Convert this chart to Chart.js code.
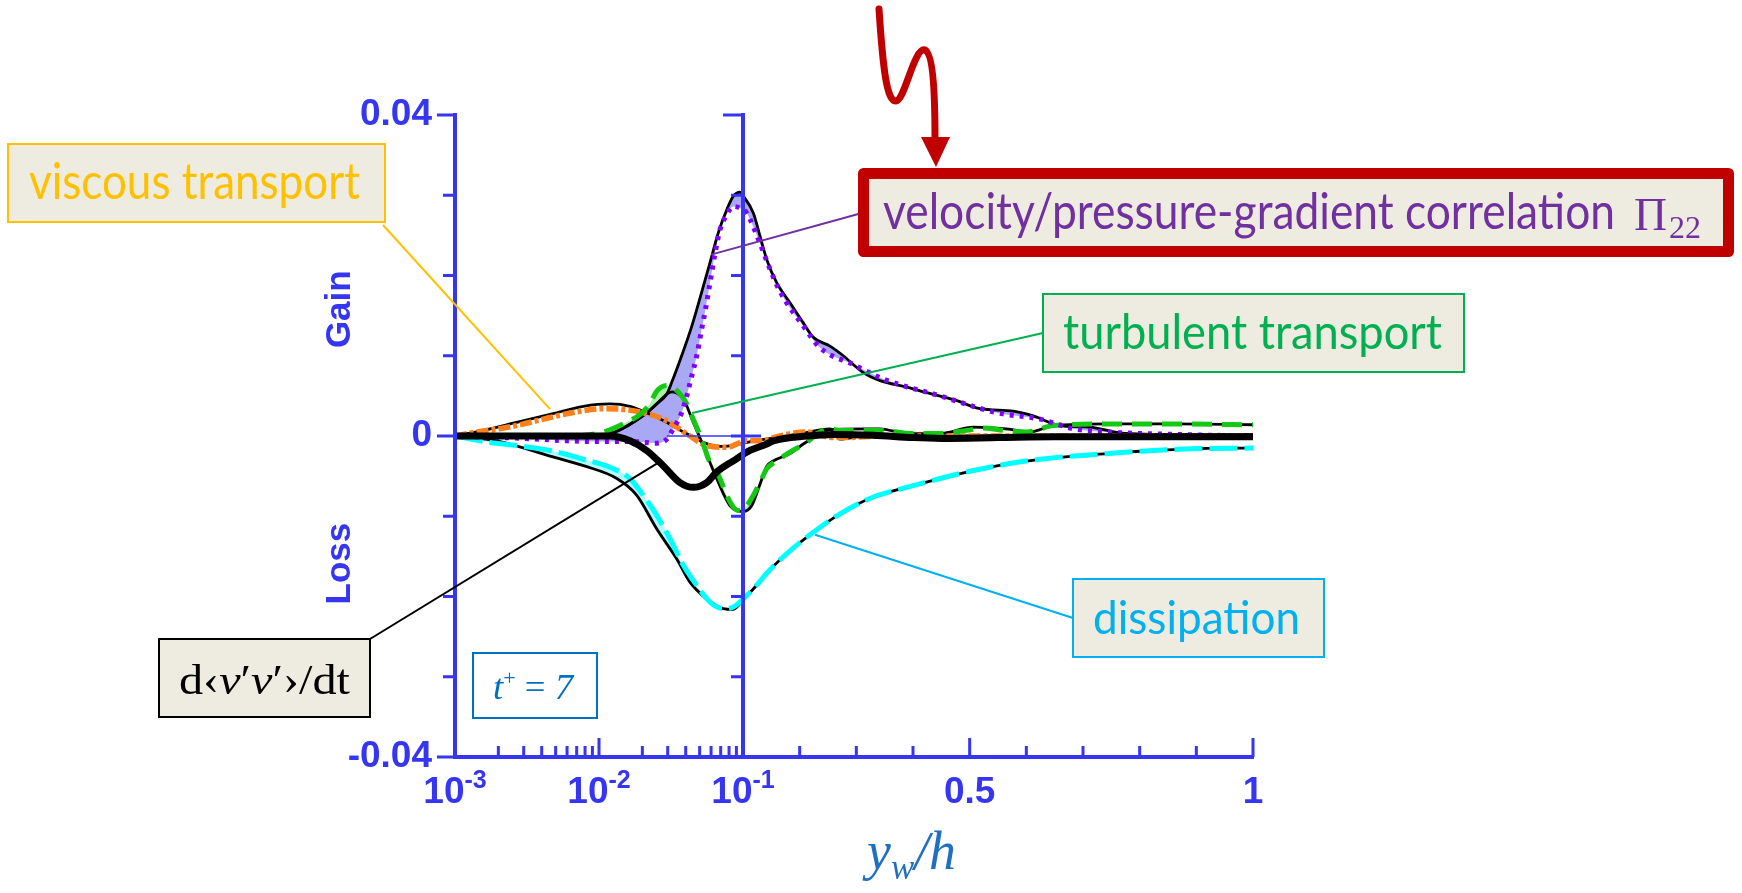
<!DOCTYPE html>
<html><head><meta charset="utf-8">
<script src="https://cdn.jsdelivr.net/npm/chart.js@4.4.1/dist/chart.umd.min.js"></script>
<style>html,body{margin:0;padding:0;background:#fff;overflow:hidden}canvas{display:block}</style>
</head><body>
<canvas id="c" width="1742" height="893"></canvas>
<script>
// ---------- tick data ----------
const xMinorTicks = [0.002,0.003,0.004,0.005,0.006,0.007,0.008,0.009,0.02,0.03,0.04,0.05,0.06,0.07,0.08,0.09,0.2,0.3,0.4,0.6,0.7,0.8,0.9];
const xMajorTicks = [0.01, 0.5, 1];
const xLabelValues = [0.001, 0.01, 0.1, 0.5, 1];
const xTickBases = ['10', '10', '10', '0.5', '1'];
const xTickExponents = ['-3', '-2', '-1', '', ''];
const yTickValues = [-0.04, -0.03, -0.02, -0.01, 0, 0.01, 0.02, 0.03, 0.04];
const yLabelValues = [-0.04, 0, 0.04];
const yTickLabels = ['-0.04', '0', '0.04'];

// ---------- series (x = y_w/h, y = budget term) ----------
const dudtX = [0.001,0.005,0.0119,0.0164,0.0214,0.0279,0.0365,0.0452,0.056,0.0656,0.0857,0.1124,0.1418,0.1535,0.2124,0.26,0.33,0.4,0.45,0.55,0.65,0.8,1.0];
const dudtY = [0,0,0,-0.0006,-0.0018,-0.0037,-0.0058,-0.0064,-0.0058,-0.0045,-0.0031,-0.0018,-0.0010,-0.0006,0.0000,0.0002,0.0001,-0.0002,-0.0003,-0.0002,-0.0001,-0.0001,-0.0001];

const pi22RefX = [0.001,0.005,0.01,0.0129,0.0165,0.0208,0.0255,0.0295,0.032,0.0375,0.0441,0.0516,0.059,0.0673,0.0771,0.0857,0.0953,0.1005,0.1182,0.13,0.1418,0.1594,0.1829,0.2064,0.2241,0.2535,0.277,0.3123,0.3418,0.3889,0.4242,0.4771,0.5182,0.5771,0.6124,0.6594,0.7124,0.7653,0.8712,1.0];
const pi22RefY = [0,0,0.0001,0.0005,0.0015,0.0027,0.0041,0.0052,0.0067,0.0100,0.0137,0.0179,0.0216,0.0253,0.0282,0.0299,0.0304,0.0299,0.0278,0.0249,0.0220,0.0191,0.0166,0.0141,0.0123,0.0112,0.0100,0.0079,0.0069,0.0061,0.0054,0.0044,0.0034,0.0031,0.0025,0.0013,0.0011,0.0004,0.0002,0.0002];
const pi22X = [0.001,0.003,0.006,0.0102,0.0173,0.0251,0.0295,0.0328,0.0375,0.0407,0.0441,0.0477,0.0516,0.0544,0.059,0.064,0.0692,0.0771,0.0857,0.0953,0.1065,0.1124,0.13,0.1476,0.1653,0.2064,0.2359,0.2947,0.3476,0.4476,0.5477,0.6241,0.6829,0.7418,0.8594,1.0];
const pi22Y = [0,-0.0003,-0.0006,-0.0007,-0.0007,-0.0009,-0.0004,0.0009,0.0029,0.0050,0.0075,0.0100,0.0133,0.0154,0.0191,0.0228,0.0257,0.0276,0.0286,0.0284,0.0278,0.0270,0.0240,0.0208,0.0180,0.0137,0.0110,0.0089,0.0071,0.0050,0.0029,0.0021,0.0009,0.0005,0.0002,0.0000];

const turbRefX = [0.001,0.008,0.0129,0.0208,0.0255,0.0295,0.0321,0.0385,0.0452,0.0529,0.0656,0.0813,0.1005,0.1153,0.13,0.1418,0.1535,0.1829,0.2064,0.23,0.2535,0.3123,0.3418,0.3889,0.4476,0.5065,0.5653,0.6065,0.6476,0.75,0.86,1.0];
const turbRefY = [0,0,0.0005,0.0027,0.0041,0.0052,0.0055,0.0046,0.0017,-0.0012,-0.0053,-0.0087,-0.0094,-0.0087,-0.0060,-0.0038,-0.0031,-0.0022,-0.0010,0.0000,0.0008,0.0009,0.0009,0.0003,0.0003,0.0011,0.0009,0.0005,0.0013,0.0015,0.0015,0.0014];
const turbX = [0.001,0.006,0.0102,0.0155,0.0193,0.0225,0.0252,0.0295,0.034,0.0407,0.0441,0.0516,0.059,0.0622,0.0692,0.0771,0.088,0.0953,0.1065,0.1182,0.13,0.1418,0.1594,0.1829,0.2124,0.2359,0.2535,0.2712,0.3418,0.4006,0.4476,0.4947,0.5241,0.5594,0.6006,0.6476,0.7418,0.8594,1.0];
const turbY = [0,0,0.0004,0.0017,0.0027,0.0040,0.0056,0.0063,0.0058,0.0040,0.0025,-0.0004,-0.0033,-0.0037,-0.0053,-0.0074,-0.0091,-0.0093,-0.0087,-0.0074,-0.0058,-0.0041,-0.0031,-0.0020,-0.0008,0.0005,0.0009,0.0007,0.0007,0.0003,0.0003,0.0007,0.0010,0.0007,0.0005,0.0013,0.0015,0.0015,0.0014];

const viscRefX = [0.001,0.00157,0.00268,0.00457,0.0078,0.0119,0.0164,0.0214,0.0295,0.0385,0.0452,0.0529,0.07,0.09,0.12,0.16,0.21,0.2535,0.2712,0.32,0.45,0.7,1.0];
const viscRefY = [0,0.0007,0.0017,0.0027,0.0037,0.0040,0.0037,0.0029,0.0017,0.0005,-0.0001,-0.0008,-0.0013,-0.0011,-0.0006,-0.0002,0.0004,0.0009,-0.0004,0.0001,0,0,0];
const viscX = [0.001,0.0014,0.00205,0.00298,0.00457,0.007,0.0107,0.0148,0.0203,0.0295,0.0428,0.056,0.0771,0.1065,0.1359,0.1535,0.2124,0.2594,0.277,0.35,0.5,0.7,1.0];
const viscY = [0,0.0005,0.0009,0.0015,0.0023,0.0030,0.0034,0.0033,0.0029,0.0019,0.0000,-0.0012,-0.0014,-0.0006,-0.0006,-0.0002,0.0005,-0.0002,-0.0002,0,0,0,0];

const dissRefX = [0.001,0.00195,0.00457,0.0078,0.0133,0.0183,0.0252,0.0346,0.0428,0.056,0.0728,0.0857,0.1005,0.1241,0.1418,0.1829,0.2241,0.2712,0.33,0.3889,0.4476,0.5065,0.5653,0.6241,0.6829,0.7418,0.8006,0.8888,1.0];
const dissRefY = [0,-0.0006,-0.0025,-0.0037,-0.0053,-0.0074,-0.0116,-0.0153,-0.0182,-0.0203,-0.0215,-0.0216,-0.0204,-0.0186,-0.0171,-0.0143,-0.0120,-0.0097,-0.0076,-0.0064,-0.0053,-0.0043,-0.0035,-0.0029,-0.0025,-0.0022,-0.0019,-0.0016,-0.0015];
const dissX = [0.001,0.00175,0.00268,0.00457,0.0078,0.0119,0.0164,0.0203,0.0252,0.0311,0.0385,0.0477,0.059,0.0728,0.0857,0.1005,0.1241,0.1418,0.1829,0.2241,0.2712,0.33,0.3889,0.4476,0.5065,0.5653,0.6241,0.6829,0.7418,0.8006,0.8888,1.0];
const dissY = [0,-0.0008,-0.0012,-0.0018,-0.0029,-0.0039,-0.0053,-0.0074,-0.0099,-0.0128,-0.0161,-0.0186,-0.0207,-0.0215,-0.0213,-0.0203,-0.0186,-0.0171,-0.0143,-0.0120,-0.0097,-0.0076,-0.0064,-0.0053,-0.0043,-0.0035,-0.0029,-0.0025,-0.0022,-0.0019,-0.0016,-0.0015];

// ---------- styling ----------
const BLUE = '#3535F2';
const BEIGE = '#EEECE1';
const pts = (xs, ys) => xs.map((x, i) => ({ x: x, y: ys[i] }));

// ---------- custom x scale: log up to 0.1, linear beyond ----------
class SplitLogLinearScale extends Chart.Scale {
  determineDataLimits() { this.min = this.options.min; this.max = this.options.max; }
  buildTicks() { return xLabelValues.map(v => ({ value: v })); }
  getLabelForValue(v) { return String(v); }
  _toDecimal(v) {
    const b = this.options.breakValue, s = this.options.logShare;
    if (v <= b) {
      const lo = Math.log10(this.min);
      return s * (Math.log10(Math.max(v, 1e-12)) - lo) / (Math.log10(b) - lo);
    }
    return s + (1 - s) * (v - b) / (this.max - b);
  }
  getPixelForValue(v) { return this.getPixelForDecimal(this._toDecimal(v)); }
  getValueForPixel(p) {
    const d = this.getDecimalForPixel(p), b = this.options.breakValue, s = this.options.logShare;
    const lo = Math.log10(this.min);
    if (d <= s) return Math.pow(10, lo + d / s * (Math.log10(b) - lo));
    return b + (d - s) / (1 - s) * (this.max - b);
  }
}
SplitLogLinearScale.id = 'splitLogLinear';
SplitLogLinearScale.defaults = { breakValue: 0.1, logShare: 0.3609 };
Chart.register(SplitLogLinearScale);

// ---------- text helpers ----------
function rich(ctx, segs, x, base, width, color) {
  let total = 0;
  const ws = segs.map(s => { ctx.font = s[1]; const w = ctx.measureText(s[0]).width; total += w; return w; });
  const k = width ? width / total : 1;
  ctx.save();
  ctx.translate(x, base); ctx.scale(k, 1);
  ctx.fillStyle = color; ctx.textAlign = 'left'; ctx.textBaseline = 'alphabetic';
  let cx = 0;
  segs.forEach((s, i) => { ctx.font = s[1]; ctx.fillText(s[0], cx, s[2] || 0); cx += ws[i]; });
  ctx.restore();
}
function box(ctx, x1, y1, x2, y2, fill, stroke, lw) {
  ctx.save();
  ctx.fillStyle = fill; ctx.fillRect(x1, y1, x2 - x1, y2 - y1);
  ctx.strokeStyle = stroke; ctx.lineWidth = lw; ctx.strokeRect(x1, y1, x2 - x1, y2 - y1);
  ctx.restore();
}
function seg(ctx, x1, y1, x2, y2, color, lw) {
  ctx.save(); ctx.strokeStyle = color; ctx.lineWidth = lw; ctx.beginPath(); ctx.moveTo(x1, y1); ctx.lineTo(x2, y2); ctx.stroke(); ctx.restore();
}

const deco = {
  id: 'deco',
  afterDraw(chart) {
    const ctx = chart.ctx, X = chart.scales.x, Y = chart.scales.y, a = chart.chartArea;
    ctx.save();
    ctx.lineCap = 'butt';
    // x ticks (pointing up)
    xMinorTicks.forEach(v => { const p = X.getPixelForValue(v); seg(ctx, p, a.bottom, p, a.bottom - 11, BLUE, 3); });
    xMajorTicks.forEach(v => { const p = X.getPixelForValue(v); seg(ctx, p, a.bottom, p, a.bottom - 19, BLUE, 3); });
    // y ticks on left axis and on the axis at y_w/h = 0.1
    const x2 = X.getPixelForValue(0.1);
    yTickValues.forEach(v => {
      const p = Y.getPixelForValue(v);
      const major = yLabelValues.some(t => Math.abs(t - v) < 1e-9);
      seg(ctx, a.left, p, a.left - (major ? 18 : 12), p, BLUE, 3);
      if (Math.abs(v) > 1e-9 && v > -0.035) seg(ctx, x2, p, x2 - (v > 0.035 ? 20 : 12), p, BLUE, 3);
    });
    // zero reference line near the second axis
    const y0 = Y.getPixelForValue(0);
    seg(ctx, X.getPixelForValue(0.0296), y0, x2, y0, BLUE, 1.5);
    seg(ctx, x2 - 12, y0, X.getPixelForValue(0.1318), y0, BLUE, 3);

    // x tick labels with superscripts
    ctx.fillStyle = BLUE; ctx.textBaseline = 'alphabetic'; ctx.textAlign = 'left';
    xLabelValues.forEach((v, i) => {
      const p = X.getPixelForValue(v);
      ctx.font = 'bold 37px "Liberation Sans", Arial, sans-serif';
      const wb = ctx.measureText(xTickBases[i]).width;
      ctx.font = 'bold 25px "Liberation Sans", Arial, sans-serif';
      const we = xTickExponents[i] ? ctx.measureText(xTickExponents[i]).width : 0;
      const x0 = p - (wb + we) / 2;
      ctx.font = 'bold 37px "Liberation Sans", Arial, sans-serif';
      ctx.fillText(xTickBases[i], x0, 803);
      if (we) { ctx.font = 'bold 25px "Liberation Sans", Arial, sans-serif'; ctx.fillText(xTickExponents[i], x0 + wb, 788); }
    });
    // Gain / Loss
    ctx.font = 'bold 35px "Liberation Sans", Arial, sans-serif'; ctx.textAlign = 'center';
    [['Gain', 0.0158], ['Loss', -0.0159]].forEach(([t, v]) => {
      ctx.save(); ctx.translate(350, Y.getPixelForValue(v)); ctx.rotate(-Math.PI / 2); ctx.fillText(t, 0, 0); ctx.restore();
    });

    // x axis title  y_w / h
    rich(ctx, [['y', 'italic 54px "Liberation Serif", serif', 0], ['w', 'italic 35px "Liberation Serif", serif', 10], ['/', 'italic 54px "Liberation Serif", serif', 0], ['h', 'italic 54px "Liberation Serif", serif', 0]], 867, 869, 89, '#1F70C1');

    // leader lines
    seg(ctx, 383, 225, X.getPixelForValue(0.00457), Y.getPixelForValue(0.00335), '#FFC000', 2);
    seg(ctx, 862, 213, X.getPixelForValue(0.060), Y.getPixelForValue(0.0226), '#7030A0', 2);
    seg(ctx, 1043, 333, X.getPixelForValue(0.0443), Y.getPixelForValue(0.00286), '#00B050', 2);
    seg(ctx, 1073, 618, X.getPixelForValue(0.2271), Y.getPixelForValue(-0.0123), '#00B0F0', 2);
    seg(ctx, 370, 639, X.getPixelForValue(0.0257), Y.getPixelForValue(-0.00335), '#000000', 2);

    // viscous transport
    box(ctx, 8, 144, 385, 222, BEIGE, '#FFC000', 2);
    rich(ctx, [['viscous transport', '51px Lato, sans-serif', 0]], 29, 199, 331, '#FFC000');
    // red highlighted box
    ctx.save();
    ctx.fillStyle = BEIGE; ctx.fillRect(866, 176, 860, 74);
    ctx.strokeStyle = '#C00000'; ctx.lineWidth = 11; ctx.lineJoin = 'round';
    ctx.strokeRect(863.5, 173.5, 865, 78);
    ctx.restore();
    rich(ctx, [['velocity/pressure-gradient correlation', '51px Lato, sans-serif', 0]], 883, 229, 732, '#7030A0');
    rich(ctx, [['\u03A0', '47px "Liberation Serif", serif', 0]], 1634, 230, 33, '#7030A0');
    rich(ctx, [['22', '32px "Liberation Serif", serif', 0]], 1669, 238, 32, '#7030A0');
    // red arrow
    ctx.save();
    ctx.strokeStyle = '#C00000'; ctx.fillStyle = '#C00000'; ctx.lineWidth = 7; ctx.lineCap = 'round'; ctx.lineJoin = 'round';
    ctx.beginPath(); ctx.moveTo(879, 9);
    ctx.bezierCurveTo(883, 70, 887, 102, 896, 101);
    ctx.bezierCurveTo(905, 100, 914, 47, 925, 50);
    ctx.bezierCurveTo(934, 54, 935, 105, 935, 140);
    ctx.stroke();
    ctx.beginPath(); ctx.moveTo(921, 137); ctx.lineTo(950, 137); ctx.lineTo(936, 167); ctx.closePath(); ctx.fill();
    ctx.restore();
    // turbulent transport
    box(ctx, 1043, 294, 1464, 372, BEIGE, '#00B050', 2);
    rich(ctx, [['turbulent transport', '48px Lato, sans-serif', 0]], 1063, 349, 379, '#00B050');
    // dissipation
    box(ctx, 1073, 579, 1324, 657, BEIGE, '#00B0F0', 2);
    rich(ctx, [['dissipation', '47px Lato, sans-serif', 0]], 1093, 634, 207, '#00B0F0');
    // d<v'v'>/dt
    box(ctx, 159, 639, 370, 717, BEIGE, '#000000', 2);
    const sf = '42px "Liberation Serif", serif', si = 'italic 42px "Liberation Serif", serif';
    rich(ctx, [['d', sf, 0], ['\u2039', sf, 0], ['v', si, 0], ['\u2032', sf, 0], ['v', si, 0], ['\u2032', sf, 0], ['\u203A', sf, 0], ['/dt', sf, 0]], 179, 694, 171, '#000000');
    // t+ = 7
    box(ctx, 473, 653, 597, 718, '#FFFFFF', '#0070C0', 2);
    rich(ctx, [['t', 'italic 35px "Liberation Serif", serif', 0], ['+', '21px "Liberation Serif", serif', -14], [' = ', '35px "Liberation Serif", serif', 0], ['7', 'italic 35px "Liberation Serif", serif', 0]], 493, 699, 80, '#0070C0');
    ctx.restore();
  }
};

const thin = (data, order) => ({ data, borderColor: '#000', borderWidth: 2.8, pointRadius: 0, cubicInterpolationMode: 'monotone', order, fill: false });

new Chart(document.getElementById('c'), {
  type: 'line',
  data: {
    datasets: [
      { label: 'd<v\'v\'>/dt', data: pts(dudtX, dudtY), borderColor: '#000', borderWidth: 7, pointRadius: 0, cubicInterpolationMode: 'monotone', order: 1 },
      { label: 'Pi22', data: pts(pi22X, pi22Y), borderColor: '#7F00FF', borderWidth: 5, borderDash: [4, 6], borderCapStyle: 'butt', pointRadius: 0, cubicInterpolationMode: 'monotone', order: 5,
        fill: { target: 5, above: 'rgb(168,168,245)', below: 'rgb(168,168,245)' } },
      { label: 'turbulent transport', data: pts(turbX, turbY), borderColor: '#14C814', borderWidth: 5, borderDash: [20, 10], pointRadius: 0, cubicInterpolationMode: 'monotone', order: 6,
        fill: { target: 6, above: 'rgb(170,240,170)', below: 'rgb(170,240,170)' } },
      { label: 'viscous transport', data: pts(viscX, viscY), borderColor: '#FF7F1A', borderWidth: 5.5, borderDash: [12, 3, 4, 3], pointRadius: 0, cubicInterpolationMode: 'monotone', order: 7 },
      { label: 'dissipation', data: pts(dissX, dissY), borderColor: '#00FFFF', borderWidth: 5, borderDash: [28, 7], pointRadius: 0, cubicInterpolationMode: 'monotone', order: 8,
        fill: { target: 8, above: 'rgb(175,250,250)', below: 'rgb(175,250,250)' } },
      Object.assign(thin(pts(pi22RefX, pi22RefY), 10), { label: 'Pi22 ref' }),
      Object.assign(thin(pts(turbRefX, turbRefY), 10), { label: 'turbulent ref' }),
      Object.assign(thin(pts(viscRefX, viscRefY), 10), { label: 'viscous ref' }),
      Object.assign(thin(pts(dissRefX, dissRefY), 10), { label: 'dissipation ref' })
    ]
  },
  options: {
    responsive: false, devicePixelRatio: 1, animation: false, events: [],
    layout: { padding: { left: 335, right: 489, top: 115, bottom: 136 } },
    plugins: { legend: { display: false }, tooltip: { enabled: false }, filler: { drawTime: 'beforeDatasetsDraw' } },
    scales: {
      x: { type: 'splitLogLinear', position: 'bottom', min: 0.001, max: 1,
        grid: { display: false, drawTicks: false }, ticks: { display: false },
        border: { display: true, color: BLUE, width: 4, z: 1 },
        afterFit: s => { s.height = 0; } },
      y: { type: 'linear', position: 'left', min: -0.04, max: 0.04,
        grid: { display: false, drawTicks: false },
        border: { display: true, color: BLUE, width: 4, z: 1 },
        ticks: { stepSize: 0.01, autoSkip: false, padding: 23, color: BLUE,
          font: { family: '"Liberation Sans", Arial, sans-serif', weight: 'bold', size: 37 },
          callback: v => { const i = yLabelValues.findIndex(t => Math.abs(t - v) < 1e-9); return i >= 0 ? yTickLabels[i] : ''; } },
        afterFit: s => { s.width = 120; } },
      y2: { type: 'linear', position: { x: 0.1 }, min: -0.04, max: 0.04,
        grid: { display: false, drawTicks: false }, ticks: { display: false },
        border: { display: true, color: BLUE, width: 4, z: 1 } }
    }
  },
  plugins: [deco]
});
</script>
</body></html>
